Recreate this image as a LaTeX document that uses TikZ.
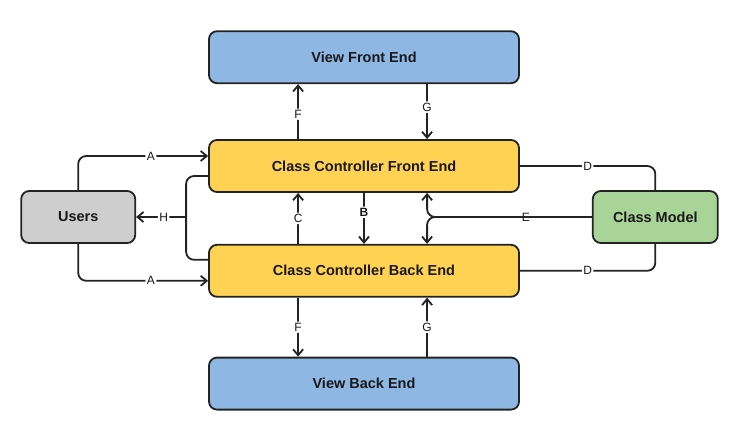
\documentclass[tikz,border=0pt]{standalone}
\usepackage{fontspec}
\setmainfont{Liberation Sans}
\usetikzlibrary{positioning,arrows.meta}

\definecolor{viewblue}{RGB}{142,183,228}
\definecolor{ctrlyellow}{RGB}{255,210,84}
\definecolor{usergrey}{RGB}{206,206,206}
\definecolor{modelgreen}{RGB}{168,212,152}
\definecolor{linegrey}{RGB}{35,35,35}

\tikzset{
  box/.style={draw=linegrey, line width=1.8pt, rounded corners=8pt, font=\fontsize{14.5}{16}\selectfont\bfseries, text=black!90},
  view/.style={box, fill=viewblue, minimum width=310pt, minimum height=52pt},
  ctrl/.style={box, fill=ctrlyellow, minimum width=310pt, minimum height=52pt},
  actor/.style={box, fill=usergrey, minimum width=114pt, minimum height=52pt},
  model/.style={box, fill=modelgreen, minimum width=125pt, minimum height=52pt},
  link/.style={draw=linegrey, line width=1.8pt, rounded corners=8pt},
  arr/.style={link, -{Straight Barb[length=6pt,width=10pt,line width=1.8pt]}},
  lbl/.style={fill=white, inner sep=1.5pt, font=\fontsize{12}{14}\selectfont, text=black!90}
}

\begin{document}
\begin{tikzpicture}[x=1pt, y=-1pt]
  \useasboundingbox (0,0) rectangle (747,447);
  % Define nodes
  \node[ctrl]                                     (ccfe)  at (364,166) {Class Controller Front End};
  \node[view,  above=55pt of ccfe]                (vfe)   {View Front End};
  \node[ctrl,  below=51pt of ccfe]                (ccbe)  {Class Controller Back End};
  \node[view,  below=59pt of ccbe]                (vbe)   {View Back End};
  \node[actor, left=72pt of ccfe.west, yshift=-51pt]  (users) {Users};
  \node[model, right=72pt of ccfe.east, yshift=-51pt] (cm)    {Class Model};

  % Connect the nodes
  \draw[arr] ([xshift=90pt]ccfe.north west) -- node[lbl, pos=0.45] {F} ([xshift=90pt]vfe.south west);
  \draw[arr] ([xshift=219pt]vfe.south west) -- node[lbl, pos=0.42] {G} ([xshift=219pt]ccfe.north west);
  \draw[arr] ([xshift=90pt]ccbe.south west) -- node[lbl, pos=0.5] {F} ([xshift=90pt]vbe.north west);
  \draw[arr] ([xshift=219pt]vbe.north west) -- node[lbl, pos=0.5] {G} ([xshift=219pt]ccbe.south west);

  \draw[arr] ([xshift=90pt]ccbe.north west) -- node[lbl, pos=0.5] {C} ([xshift=90pt]ccfe.south west);
  \draw[arr] (ccfe.south) -- node[lbl, pos=0.38, font=\fontsize{12}{14}\selectfont\bfseries] {B} (ccbe.north);
  \draw[arr] (cm.west) -| node[lbl, pos=0.2] {E} ([xshift=219pt]ccfe.south west);
  \draw[arr] (cm.west) -| ([xshift=219pt]ccbe.north west);

  \draw[link] (ccfe.east) -| node[lbl, pos=0.25] {D} (cm.north);
  \draw[link] (ccbe.east) -| node[lbl, pos=0.25] {D} (cm.south);

  \draw[arr] (users.north) |- node[lbl, pos=0.78] {A} ([yshift=10pt]ccfe.west);
  \draw[arr] (users.south) |- node[lbl, pos=0.78] {A} ([yshift=-10pt]ccbe.west);

  \draw[link] ([yshift=-10pt]ccfe.west) -| ([xshift=50pt]users.east);
  \draw[link] ([yshift=11pt]ccbe.west) -| ([xshift=50pt]users.east);
  \draw[arr] ([xshift=50pt]users.east) -- node[lbl, pos=0.45] {H} (users.east);
\end{tikzpicture}
\end{document}
